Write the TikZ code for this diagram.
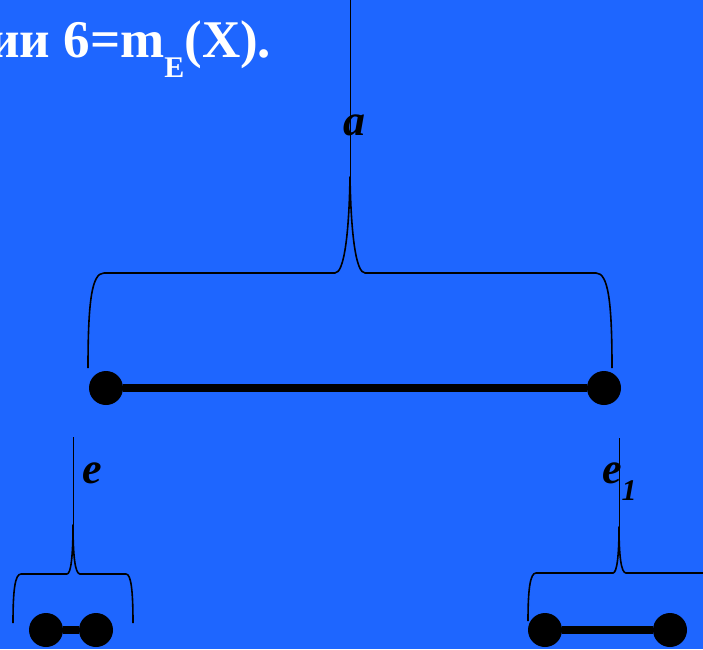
\documentclass[tikz,border=0pt]{standalone}
\usepackage{fontspec}
\setmainfont{Liberation Serif}
\usetikzlibrary{positioning}
\definecolor{slide}{RGB}{30,102,255}
\tikzset{
  vertex/.style={circle, fill=black, inner sep=0pt, minimum size=34pt},
  segline/.style={line width=8pt},
  bracepath/.style={line width=1.6pt, line join=round},
  stemline/.style={line width=0.8pt},
  lbl/.style={font=\fontsize{44}{50}\selectfont\bfseries\itshape, inner sep=0pt, anchor=base west}
}
\begin{document}
\begin{tikzpicture}[x=1pt, y=-1pt]
  \fill[slide] (0,0) rectangle (703,649);
  \useasboundingbox (0,0) rectangle (703,649);
  \clip (0,0) rectangle (703,649);

  % heading, cut at the left edge
  \node[anchor=base west, inner sep=0pt, text=white, font=\fontsize{53}{60}\selectfont\bfseries] (head) at (-11,57)
    {ии 6=m\raisebox{-20pt}{\fontsize{30}{30}\selectfont E}(X).};

  % whole segment
  \node[vertex] (a1) at (106,388) {};
  \node[vertex] (a2) at (604,388) {};
  \draw[segline] (a1) -- (a2);
  \draw[bracepath] (88,368) .. controls (88,300) and (92,273) .. (104,273) -- (335,273)
    .. controls (344,273) and (349,235) .. (350,177) .. controls (351,235) and (356,273) .. (365,273)
    -- (596,273) .. controls (608,273) and (612,300) .. (612,368);
  \draw[stemline] (350,177) -- (350,0);
  \node[lbl] (la) at (343,135) {a};

  % unit segment e
  \node[vertex] (e1) at (46,630) {};
  \node[vertex] (e2) at (96,630) {};
  \draw[segline] (e1) -- (e2);
  \draw[bracepath] (13,623) .. controls (13,590) and (15,574) .. (21,574) -- (67,574)
    .. controls (71,574) and (73,555) .. (73,525) .. controls (73,555) and (75,574) .. (80,574)
    -- (126,574) .. controls (131,574) and (133,590) .. (133,623);
  \draw[stemline] (73,525) -- (73,437);
  \node[lbl] (le) at (82,483) {e};

  % unit segment e_1
  \node[vertex] (f1) at (545,630) {};
  \node[vertex] (f2) at (670,630) {};
  \draw[segline] (f1) -- (f2);
  \draw[bracepath] (528,621) .. controls (528,590) and (530,573) .. (536,573) -- (613,573)
    .. controls (617,573) and (619,555) .. (619,527) .. controls (619,555) and (621,573) .. (626,573)
    -- (710,573);
  \draw[stemline] (619,527) -- (619,438);
  \node[lbl] (lf) at (602,483) {e\raisebox{-17pt}{\fontsize{30}{30}\selectfont 1}};
\end{tikzpicture}
\end{document}
